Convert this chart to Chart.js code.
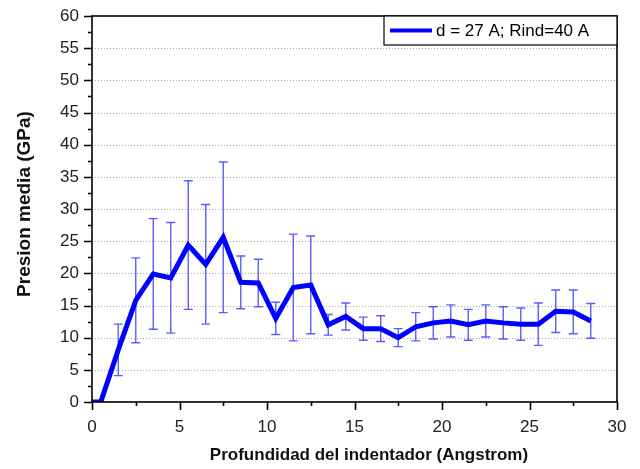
<!DOCTYPE html>
<html>
<head>
<meta charset="utf-8">
<script src="https://cdn.jsdelivr.net/npm/chart.js@4.4.1/dist/chart.umd.min.js"></script>
<style>
  html, body { margin: 0; padding: 0; background: #fff; }
  #wrap { width: 640px; height: 469px; }
</style>
</head>
<body>
<div id="wrap"><canvas id="chart" width="640" height="469"></canvas></div>
<script>
// indentation depth (Angstrom)
const depth = [0, 0.5, 1.5, 2.5, 3.5, 4.5, 5.5, 6.5, 7.5, 8.5, 9.5, 10.5, 11.5, 12.5, 13.5,
  14.5, 15.5, 16.5, 17.5, 18.5, 19.5, 20.5, 21.5, 22.5, 23.5, 24.5, 25.5, 26.5, 27.5, 28.5];
// mean pressure (GPa)
const pressure = [0, 0, 8.1, 15.8, 19.9, 19.3, 24.4, 21.4, 25.6, 18.6, 18.5, 13.0, 17.8, 18.2, 12.0,
  13.3, 11.4, 11.4, 10.0, 11.7, 12.3, 12.6, 12.0, 12.6, 12.3, 12.1, 12.1, 14.1, 14.0, 12.6];
// error bar half-widths (GPa)
const errors = [0, 0, 4.0, 6.6, 8.6, 8.6, 10.0, 9.3, 11.7, 4.1, 3.7, 2.5, 8.3, 7.6, 1.6,
  2.1, 1.8, 2.0, 1.4, 2.2, 2.5, 2.5, 2.4, 2.5, 2.5, 2.5, 3.3, 3.3, 3.4, 2.7];
const seriesLabel = 'd = 27 A; Rind=40 A';
const xTitle = 'Profundidad del indentador (Angstrom)';
const yTitle = 'Presion media (GPa)';

const FONT = '"Liberation Sans", Arial, sans-serif';

// dotted grid, error bars, minor/major ticks, frame, axis titles and boxed legend
const extras = {
  id: 'extras',
  beforeDatasetsDraw(chart) {
    const { ctx, chartArea: a, scales: { x, y } } = chart;
    ctx.save();
    ctx.strokeStyle = '#a8a8a8';
    ctx.lineWidth = 1;
    ctx.setLineDash([1, 2]);
    ctx.beginPath();
    for (let v = 5; v < 60; v += 5) {
      const py = Math.round(y.getPixelForValue(v)) + 0.5;
      ctx.moveTo(a.left, py); ctx.lineTo(a.right, py);
    }
    ctx.stroke();
    ctx.setLineDash([]);

    ctx.strokeStyle = 'rgba(30,30,255,0.72)';
    ctx.lineWidth = 1.4;
    depth.forEach((d, i) => {
      if (!errors[i]) return;
      const px = x.getPixelForValue(d);
      const top = y.getPixelForValue(pressure[i] + errors[i]);
      const bot = y.getPixelForValue(pressure[i] - errors[i]);
      ctx.beginPath();
      ctx.moveTo(px, top); ctx.lineTo(px, bot);
      ctx.moveTo(px - 4.5, top); ctx.lineTo(px + 4.5, top);
      ctx.moveTo(px - 4.5, bot); ctx.lineTo(px + 4.5, bot);
      ctx.stroke();
    });
    ctx.restore();
  },
  afterDraw(chart) {
    const { ctx, chartArea: a, scales: { x, y } } = chart;
    ctx.save();
    ctx.strokeStyle = '#000';
    ctx.lineWidth = 1.6;
    ctx.strokeRect(a.left, a.top, a.right - a.left, a.bottom - a.top);
    ctx.beginPath();
    for (let v = 0; v <= 60; v += 2.5) {
      const py = Math.round(y.getPixelForValue(v)) + 0.5;
      const len = v % 5 === 0 ? 8 : 4;
      ctx.moveTo(a.left - len, py); ctx.lineTo(a.left, py);
    }
    for (let v = 0; v <= 30; v += 2.5) {
      const px = Math.round(x.getPixelForValue(v)) + 0.5;
      const len = v % 5 === 0 ? 8 : 4;
      ctx.moveTo(px, a.bottom); ctx.lineTo(px, a.bottom + len);
    }
    ctx.stroke();

    // axis titles
    ctx.fillStyle = '#111';
    ctx.textAlign = 'center';
    ctx.textBaseline = 'middle';
    ctx.font = 'bold 17px ' + FONT;
    ctx.fillText(xTitle, 369, 455);
    ctx.save();
    ctx.translate(25, 204);
    ctx.rotate(-Math.PI / 2);
    ctx.font = 'bold 19px ' + FONT;
    ctx.fillText(yTitle, 0, 0);
    ctx.restore();

    // legend box in the top-right corner
    const bx = 384, by = a.top, bw = a.right - bx, bh = 29;
    ctx.fillStyle = '#fff';
    ctx.fillRect(bx, by, bw, bh);
    ctx.lineWidth = 1.2;
    ctx.strokeRect(bx, by, bw, bh);
    ctx.strokeStyle = '#0000ff';
    ctx.lineWidth = 4;
    ctx.beginPath();
    ctx.moveTo(390, by + bh / 2); ctx.lineTo(432, by + bh / 2);
    ctx.stroke();
    ctx.fillStyle = '#000';
    ctx.font = '17px ' + FONT;
    ctx.textAlign = 'left';
    ctx.fillText(seriesLabel, 436, by + bh / 2 + 1);
    ctx.restore();
  }
};

new Chart(document.getElementById('chart'), {
  type: 'line',
  data: {
    datasets: [{
      label: seriesLabel,
      data: depth.map((d, i) => ({ x: d, y: pressure[i] })),
      borderColor: '#0000ff',
      borderWidth: 5,
      pointRadius: 0,
      tension: 0,
      fill: false
    }]
  },
  options: {
    responsive: false,
    animation: false,
    layout: { padding: { top: 16, right: 23, left: 0, bottom: 0 } },
    plugins: { legend: { display: false }, tooltip: { enabled: false } },
    scales: {
      x: {
        type: 'linear', min: 0, max: 30,
        afterFit(s) { s.height = 67; s.paddingLeft = 0; s.paddingRight = 0; },
        grid: { display: false, drawTicks: false },
        border: { display: false },
        ticks: {
          stepSize: 5, padding: 15, maxRotation: 0,
          color: '#222', font: { family: FONT, size: 17 }
        }
      },
      y: {
        min: 0, max: 60,
        afterFit(s) { s.width = 92; s.paddingTop = 0; s.paddingBottom = 0; },
        grid: { display: false, drawTicks: false },
        border: { display: false },
        ticks: {
          stepSize: 5, padding: 13,
          color: '#222', font: { family: FONT, size: 17 }
        }
      }
    }
  },
  plugins: [extras]
});
</script>
</body>
</html>
